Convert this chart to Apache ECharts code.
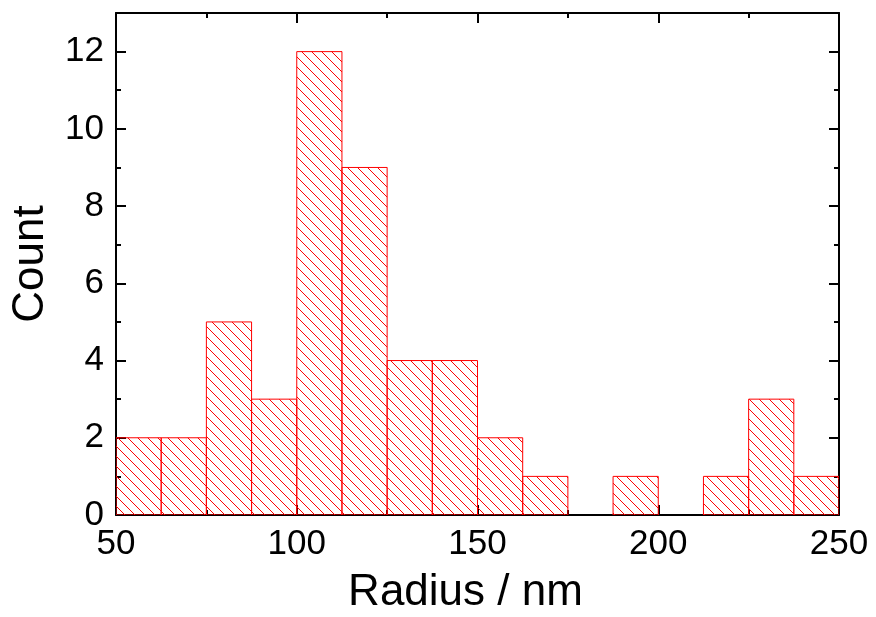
<!DOCTYPE html>
<html>
<head>
<meta charset="utf-8">
<script src="https://cdn.jsdelivr.net/npm/echarts@6/dist/echarts.min.js"></script>
<style>html,body{margin:0;padding:0;background:#fff;}#chart{width:876px;height:617px;}</style>
</head>
<body>
<div id="chart"></div>
<script>
// Histogram bin edges (nm) and counts
const binEdges = [50, 62.5, 75, 87.5, 100, 112.5, 125, 137.5, 150, 162.5, 175, 187.5, 200, 212.5, 225, 237.5, 250];
const counts = [2, 2, 5, 3, 12, 9, 4, 4, 2, 1, 0, 1, 0, 1, 3, 1];
const xTicks = [50, 100, 150, 200, 250];
const yTicks = [0, 2, 4, 6, 8, 10, 12];

const FONT = "'Liberation Sans', Arial, Helvetica, sans-serif";

// hatch pattern
const tile = document.createElement('canvas');
tile.width = 10; tile.height = 10;
const tctx = tile.getContext('2d');
tctx.strokeStyle = '#ff0000';
tctx.lineWidth = 1;
tctx.beginPath();
tctx.moveTo(-2, -2); tctx.lineTo(12, 12);
tctx.stroke();
const hatch = { image: tile, repeat: 'repeat' };

const data = counts.map((c, i) => [binEdges[i], binEdges[i + 1], c]);

const axisCommon = {
  type: 'value',
  axisLine: { show: true, onZero: false, lineStyle: { color: '#000', width: 2 } },
  axisTick: { show: true, inside: true, length: 10, lineStyle: { color: '#000', width: 2 } },
  minorTick: { show: true, splitNumber: 2, length: 5, lineStyle: { color: '#000', width: 2 } },
  splitLine: { show: false },
};

const chart = echarts.init(document.getElementById('chart'));
chart.setOption({
  animation: false,
  backgroundColor: '#fff',
  grid: { left: 116, right: 37, top: 13, bottom: 102, containLabel: false, outerBoundsMode: 'none' },
  xAxis: [
    Object.assign({}, axisCommon, {
      min: 50, max: 250, interval: 50, position: 'bottom',
      name: 'Radius / nm', nameLocation: 'middle', nameGap: 56,
      nameTextStyle: { fontFamily: FONT, fontSize: 44, color: '#000', padding: [0, 24, 0, 0] },
      axisLabel: { show: true, margin: 12, fontFamily: FONT, fontSize: 35, color: '#000',
        formatter: v => xTicks.includes(v) ? String(v) : '' }
    }),
    Object.assign({}, axisCommon, {
      min: 50, max: 250, interval: 50, position: 'top',
      axisLabel: { show: false }
    })
  ],
  yAxis: [
    Object.assign({}, axisCommon, {
      min: 0, max: 13, interval: 2, position: 'left',
      name: 'Count', nameLocation: 'middle', nameGap: 63,
      nameTextStyle: { fontFamily: FONT, fontSize: 44, color: '#000' },
      axisLabel: { show: true, margin: 12, fontFamily: FONT, fontSize: 35, color: '#000',
        formatter: v => yTicks.includes(v) ? String(v) : '' }
    }),
    Object.assign({}, axisCommon, {
      min: 0, max: 13, interval: 2, position: 'right',
      axisLabel: { show: false }
    })
  ],
  series: [{
    type: 'custom',
    xAxisIndex: 0,
    yAxisIndex: 0,
    data: data,
    clip: true,
    renderItem: function (params, api) {
      const c = api.value(2);
      if (!c) return null;
      const p0 = api.coord([api.value(0), c]);
      const p1 = api.coord([api.value(1), 0]);
      return {
        type: 'rect',
        shape: { x: p0[0], y: p0[1], width: p1[0] - p0[0], height: p1[1] - p0[1] },
        style: { fill: hatch, stroke: '#ff0000', lineWidth: 1 }
      };
    }
  }]
});
</script>
</body>
</html>
